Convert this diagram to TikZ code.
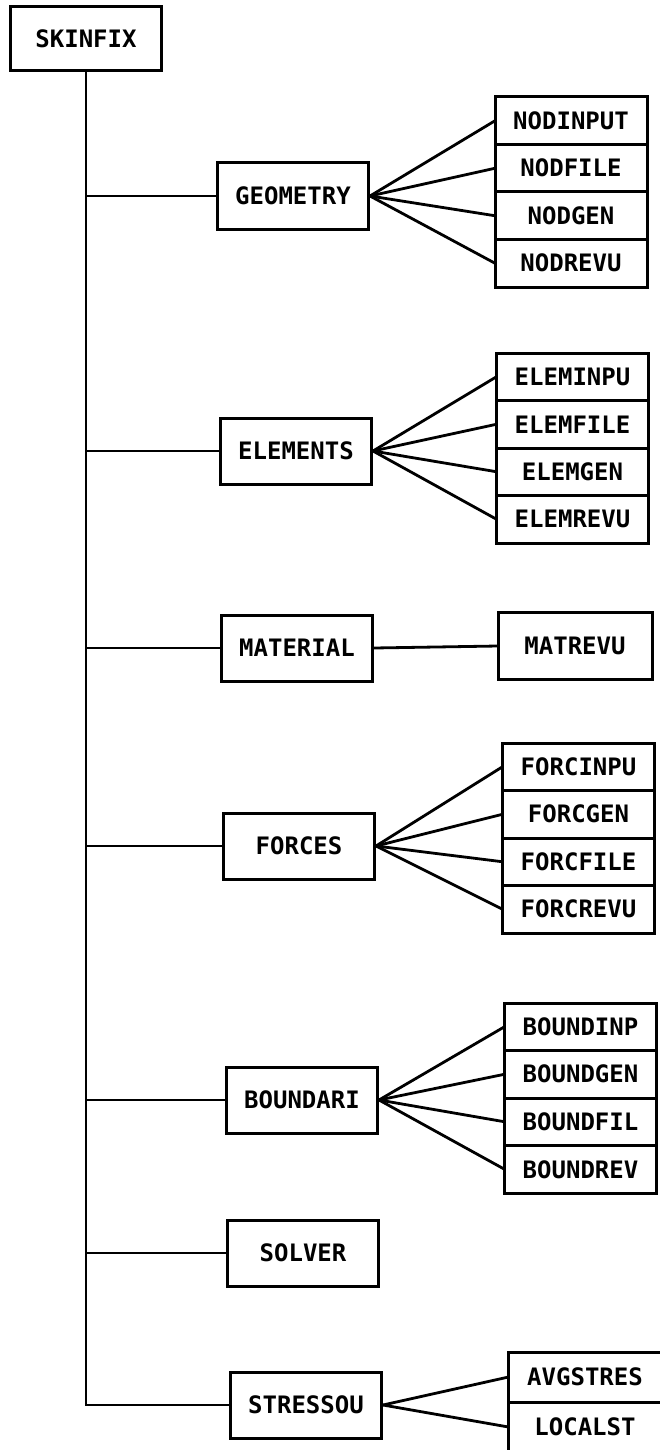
\documentclass[tikz,border=0pt]{standalone}
\usepackage{fontspec}
\setmonofont{DejaVu Sans Mono}
\usepackage{tikz}
\usetikzlibrary{positioning}

\begin{document}
\begin{tikzpicture}[
  x=1pt,y=-1pt,
  font=\fontsize{24}{27}\selectfont\ttfamily\bfseries,
  prog/.style={draw,line width=3pt,fill=white,minimum width=151pt,minimum height=66pt,inner sep=0pt},
  sub/.style={draw,line width=3pt,fill=white,minimum width=152pt,minimum height=47.5pt,inner sep=0pt,outer sep=0pt},
  link/.style={line width=2.8pt,line join=miter}
]
  \useasboundingbox (0,0) rectangle (659,1450);

  % main program and its modules
  \node[prog,minimum height=64pt] (skinfix) at (86,39) {SKINFIX};
  \node[prog] (geometry) at (293,196) {GEOMETRY};
  \node[prog] (elements) at (296,451) {ELEMENTS};
  \node[prog] (material) at (297,648) {MATERIAL};
  \node[prog] (forces)   at (299,846) {FORCES};
  \node[prog] (boundari) at (302,1100) {BOUNDARI};
  \node[prog] (solver)   at (303,1253) {SOLVER};
  \node[prog] (stressou) at (306,1405) {STRESSOU};

  % subroutines
  \node[sub] (nodinput) at (571,120.75) {NODINPUT};
  \node[sub,below=0pt of nodinput] (nodfile) {NODFILE};
  \node[sub,below=0pt of nodfile] (nodgen) {NODGEN};
  \node[sub,below=0pt of nodgen] (nodrevu) {NODREVU};

  \node[sub] (eleminpu) at (572.5,376.75) {ELEMINPU};
  \node[sub,below=0pt of eleminpu] (elemfile) {ELEMFILE};
  \node[sub,below=0pt of elemfile] (elemgen) {ELEMGEN};
  \node[sub,below=0pt of elemgen] (elemrevu) {ELEMREVU};

  \node[sub,minimum width=154pt,minimum height=67pt] (matrevu) at (575,646) {MATREVU};

  \node[sub] (forcinpu) at (578.5,766.75) {FORCINPU};
  \node[sub,below=0pt of forcinpu] (forcgen) {FORCGEN};
  \node[sub,below=0pt of forcgen] (forcfile) {FORCFILE};
  \node[sub,below=0pt of forcfile] (forcrevu) {FORCREVU};

  \node[sub] (boundinp) at (580.5,1026.75) {BOUNDINP};
  \node[sub,below=0pt of boundinp] (boundgen) {BOUNDGEN};
  \node[sub,below=0pt of boundgen] (boundfil) {BOUNDFIL};
  \node[sub,below=0pt of boundfil] (boundrev) {BOUNDREV};

  \node[sub,minimum width=153pt,minimum height=50pt] (avgstres) at (585,1377) {AVGSTRES};
  \node[sub,minimum width=153pt,minimum height=50pt,below=0pt of avgstres] (localst) {LOCALST};

  % trunk and branches
  \draw[link] (skinfix.south) -- (skinfix.south |- stressou.west) -- (stressou.west);
  \foreach \p in {geometry,elements,material,forces,boundari,solver}
    \draw[link] (skinfix.south |- \p.west) -- (\p.west);

  \foreach \c in {nodinput,nodfile,nodgen,nodrevu}
    \draw[link] (geometry.east) -- (\c.west);
  \foreach \c in {eleminpu,elemfile,elemgen,elemrevu}
    \draw[link] (elements.east) -- (\c.west);
  \draw[link] (material.east) -- (matrevu.west);
  \foreach \c in {forcinpu,forcgen,forcfile,forcrevu}
    \draw[link] (forces.east) -- (\c.west);
  \foreach \c in {boundinp,boundgen,boundfil,boundrev}
    \draw[link] (boundari.east) -- (\c.west);
  \foreach \c in {avgstres,localst}
    \draw[link] (stressou.east) -- (\c.west);
\end{tikzpicture}
\end{document}
